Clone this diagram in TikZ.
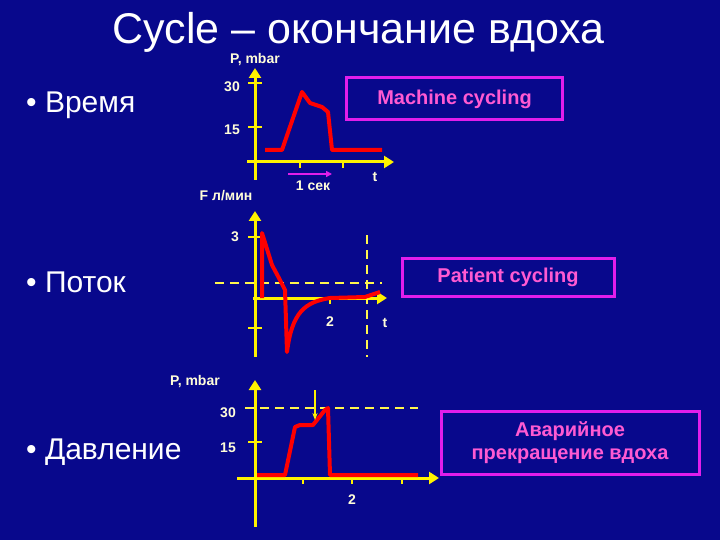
\documentclass[tikz,border=0pt]{standalone}
\usepackage{fontspec}
\setmainfont{Liberation Sans}
\definecolor{mag}{RGB}{225,30,235}
\definecolor{pinkt}{RGB}{255,90,210}
\begin{document}
\begin{tikzpicture}[x=1pt,y=-1pt,
 ax/.style={draw=yellow,line width=3pt,-{Triangle[length=10pt,width=12pt]}},
 tk/.style={draw=yellow,line width=2.5pt},
 cv/.style={draw=red,line width=4pt,line join=round},
 dsh/.style={draw=yellow!70!white,line width=1.8pt,dash pattern=on 9pt off 6pt},
 wl/.style={text=white!85!yellow,font=\bfseries\fontsize{14}{14}\selectfont,inner sep=0pt},
 box/.style={draw=mag,line width=3pt,text=pinkt,font=\bfseries\fontsize{20}{23}\selectfont,align=center},
 big/.style={text=white,font=\fontsize{30}{30}\selectfont,anchor=west,inner sep=0pt}]
\usetikzlibrary{arrows.meta}
\fill[fill={rgb,255:red,8;green,8;blue,140}] (0,0) rectangle (720,540);
\node[text=white,font=\fontsize{43}{43}\selectfont] (title) at (358,32) {Cycle – окончание вдоха};
\node[big] (b1) at (26,105) {• Время};
\node[big] (b2) at (26,282) {• Поток};
\node[big] (b3) at (26,452) {• Давление};
% graph 1
\coordinate (a1t) at (255,68); \coordinate (a1b) at (255,180);
\coordinate (x1l) at (247,162); \coordinate (x1r) at (394,162);
\draw[ax] (a1b) -- (a1t);
\draw[ax] (x1l) -- (x1r);
\draw[tk] (248,83) -- (262,83) (248,127) -- (262,127) (300,162) -- (300,168) (343,162) -- (343,168);
\node[wl] (p1) at (255,60) {P, mbar};
\node[wl] (l30a) at (232,87) {30};
\node[wl] (l15a) at (232,130) {15};
\node[wl] (sec) at (313,186) {1 сек};
\node[wl] (t1) at (375,177) {t};
\coordinate (m1) at (288,174); \coordinate (m2) at (332,174);
\draw[draw=mag,line width=2pt,-{Triangle[length=6pt,width=6pt]}] (m1) -- (m2);
\draw[cv] (265,150) -- (282,150) -- (302,92) -- (310,103) -- (322,107) -- (328,112) -- (332,150) -- (382,150);
\node[box,minimum width=216pt,minimum height=42pt] (mc) at (454.5,99) {Machine cycling};
% graph 2
\node[wl] (f) at (226,196) {F л/мин};
\draw[ax] (255,357) -- (255,211);
\draw[ax] (253,298) -- (387,298);
\draw[tk] (248,237) -- (262,237) (248,328) -- (262,328) (330,298) -- (330,304);
\node[wl] (l3) at (235,237) {3};
\draw[dsh] (215,283) -- (382,283);
\draw[dsh] (367,235) -- (367,357);
\draw[cv] (262,298) -- (262,233) -- (272,265) -- (280,280) -- (285,290) -- (287,352) .. controls (292,312) and (305,302) .. (330,298) -- (365,297) -- (380,292);
\node[wl] (l2a) at (330,322) {2};
\node[wl] (t2) at (385,323) {t};
\node[box,minimum width=212pt,minimum height=38pt] (pc) at (508,277) {Patient cycling};
% graph 3
\node[wl] (p3) at (195,382) {P, mbar};
\draw[ax] (255,527) -- (255,380);
\draw[ax] (237,478) -- (439,478);
\draw[tk] (248,442) -- (262,442) (303,478) -- (303,484) (352,478) -- (352,484) (402,478) -- (402,484);
\node[wl] (l30c) at (228,413) {30};
\node[wl] (l15c) at (228,448) {15};
\draw[dsh] (245,408) -- (418,408);
\draw[cv] (257,475) -- (285,475) -- (295,427) -- (300,425) -- (313,425) -- (325,410) -- (328,408) -- (330,475) -- (418,475);
\coordinate (da) at (315,390); \coordinate (db) at (315,420);
\draw[draw=yellow,line width=1.5pt,-{Stealth[length=7pt]}] (da) -- (db);
\node[wl] (l2c) at (352,500) {2};
\node[box,minimum width=258pt,minimum height=63pt] (ab) at (570,442.5) {Аварийное\\прекращение вдоха};
\end{tikzpicture}
\end{document}
